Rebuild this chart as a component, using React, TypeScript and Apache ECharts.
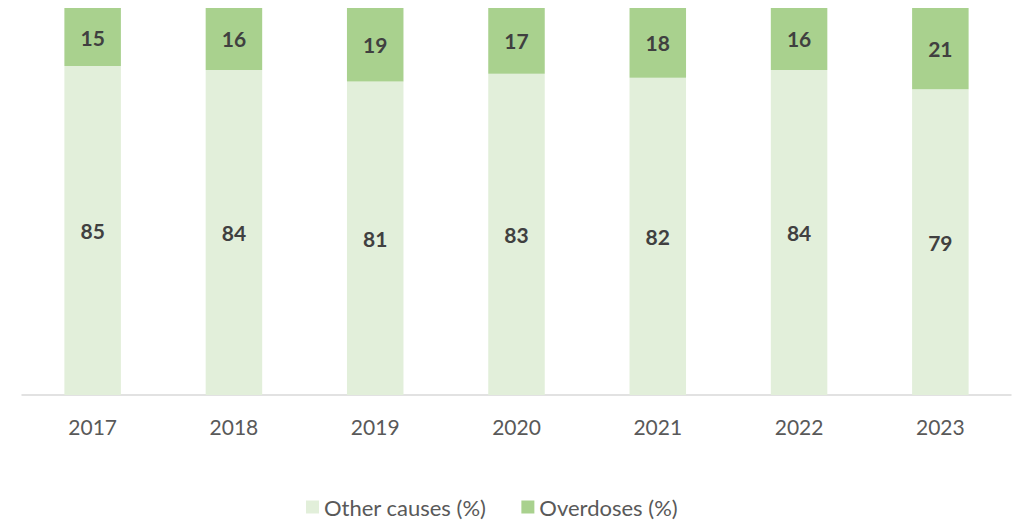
import React, { useEffect, useRef } from "react";
import * as echarts from "echarts";

const years = ["2017", "2018", "2019", "2020", "2021", "2022", "2023"];
const otherCauses = [85, 84, 81, 83, 82, 84, 79];
const overdoses = [15, 16, 19, 17, 18, 16, 21];

const FONT = "Lato, 'Noto Sans', sans-serif";

export default function App() {
  const ref = useRef<HTMLDivElement>(null);
  useEffect(() => {
    if (!ref.current) return;
    const chart = echarts.init(ref.current, undefined, { renderer: "svg" });
    const label = {
      show: true,
      position: "inside",
      color: "#404040",
      fontWeight: "bold",
      fontSize: 21,
      fontFamily: FONT,
    };
    chart.setOption({
      animation: false,
      backgroundColor: "#ffffff",
      grid: { left: 22, right: 7, top: 8, bottom: 125, containLabel: false },
      legend: {
        bottom: -3,
        left: 301,
        itemWidth: 13,
        itemHeight: 13,
        itemGap: 35,
        icon: "rect",
        textStyle: { color: "#595959", fontSize: 22, fontFamily: FONT },
        data: ["Other causes (%)", "Overdoses (%)"],
      },
      xAxis: {
        type: "category",
        data: years,
        axisLine: { lineStyle: { color: "#D9D9D9", width: 1.5 } },
        axisTick: { show: false },
        axisLabel: { color: "#595959", fontSize: 21, fontFamily: FONT, margin: 21 },
      },
      yAxis: {
        type: "value",
        min: 0,
        max: 100,
        show: false,
        splitLine: { show: false },
      },
      series: [
        {
          name: "Other causes (%)",
          type: "bar",
          stack: "total",
          data: otherCauses,
          barWidth: "40%",
          itemStyle: { color: "#E2EFDA" },
          label,
        },
        {
          name: "Overdoses (%)",
          type: "bar",
          stack: "total",
          data: overdoses,
          barWidth: "40%",
          itemStyle: { color: "#A9D18E" },
          label,
        },
      ],
    });
    return () => chart.dispose();
  }, []);
  return <div ref={ref} style={{ width: 1018, height: 520, position: "absolute", left: 0, top: 0 }} />;
}
